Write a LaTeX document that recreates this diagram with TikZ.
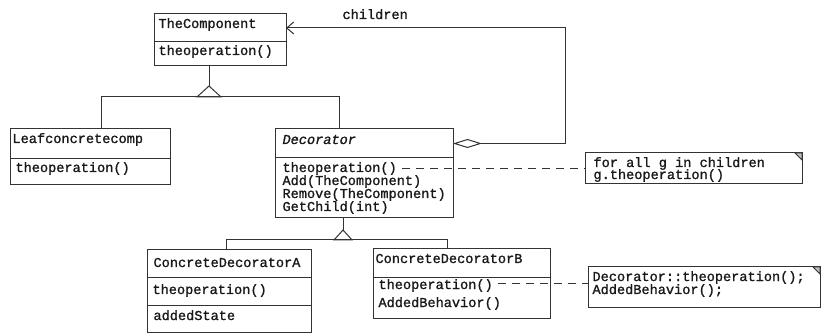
\documentclass[tikz,border=0pt]{standalone}
\usepackage{fontspec}
\newfontfamily\umlfont[FakeBold=1.2]{Liberation Mono}
\usetikzlibrary{arrows.meta,calc}
\begin{document}
\begin{tikzpicture}[x=1pt,y=-1pt,
  line width=1pt,
  comp/.style={draw=black!80, inner sep=0pt, outer sep=0pt, anchor=north west},
  notebox/.style={draw=black!80, inner sep=0pt, outer sep=0pt, anchor=north west},
  txt/.style={font=\umlfont\fontsize{13.6}{13}\selectfont, inner sep=0pt, anchor=base west, text=black!90},
  itxt/.style={txt, font=\umlfont\itshape\fontsize{13.6}{13}\selectfont},
  conn/.style={draw=black!80, line width=1pt},
  dashln/.style={draw=black!80, line width=1pt, dash pattern=on 8pt off 6pt},
]
\path[use as bounding box] (0,0) rectangle (826,336);
\fill[white] (0,0) rectangle (826,336);

% TheComponent
\node[comp, minimum width=132pt, minimum height=28pt] (tcA) at (154,14) {};
\node[comp, minimum width=132pt, minimum height=24pt] (tcB) at (154,42) {};
\node[txt] (tcN) at (158,28) {TheComponent};
\node[txt] (tcO) at (158,55) {theoperation()};

% Leafconcretecomp
\node[comp, minimum width=160pt, minimum height=30pt] (lfA) at (10,129) {};
\node[comp, minimum width=160pt, minimum height=26pt] (lfB) at (10,159) {};
\node[txt] (lfN) at (12,143) {Leafconcretecomp};
\node[txt] (lfO) at (15,172) {theoperation()};

% Decorator
\node[comp, minimum width=178pt, minimum height=29pt] (dcA) at (275,129) {};
\node[comp, minimum width=178pt, minimum height=60pt] (dcB) at (275,158) {};
\node[itxt] (dcN) at (282,144) {Decorator};
\node[txt] (dcO1) at (282,172) {theoperation()};
\node[txt] (dcO2) at (282,185) {Add(TheComponent)};
\node[txt] (dcO3) at (282,198) {Remove(TheComponent)};
\node[txt] (dcO4) at (282,211) {GetChild(int)};

% Note 1
\node[notebox, minimum width=217pt, minimum height=31pt] (nt1) at (585,153) {};
\draw[conn, fill=black!25] ($(nt1.north east)+(-7,0)$) -- ($(nt1.north east)+(0,7)$) -- (nt1.north east) -- cycle;
\node[txt] (nt1a) at (593,167) {for all g in children};
\node[txt] (nt1b) at (593,179) {g.theoperation()};

% ConcreteDecoratorA
\node[comp, minimum width=164pt, minimum height=28pt] (caA) at (147,250) {};
\node[comp, minimum width=164pt, minimum height=27pt] (caB) at (147,278) {};
\node[comp, minimum width=164pt, minimum height=27pt] (caC) at (147,305) {};
\node[txt] (caN) at (153,267) {ConcreteDecoratorA};
\node[txt] (caO) at (152,294) {theoperation()};
\node[txt] (caS) at (153,320) {addedState};

% ConcreteDecoratorB
\node[comp, minimum width=177pt, minimum height=29pt] (cbA) at (373,249) {};
\node[comp, minimum width=177pt, minimum height=40pt] (cbB) at (373,278) {};
\node[txt] (cbN) at (375,263) {ConcreteDecoratorB};
\node[txt] (cbO1) at (378,289) {theoperation()};
\node[txt] (cbO2) at (378,307) {AddedBehavior()};

% Note 2
\node[notebox, minimum width=232pt, minimum height=40pt] (nt2) at (588,267) {};
\draw[conn, fill=black!25] ($(nt2.north east)+(-7,0)$) -- ($(nt2.north east)+(0,7)$) -- (nt2.north east) -- cycle;
\node[txt] (nt2a) at (592,281) {Decorator::theoperation();};
\node[txt] (nt2b) at (592,294) {AddedBehavior();};

% generalization 1
\coordinate (g1) at ($(tcB.south west)+(55,20)$);
\draw[conn] ($(tcB.south west)+(55,0)$) -- (g1);
\draw[conn, fill=white] (g1) -- ++(-12,11) -- ++(24,0) -- cycle;
\draw[conn] ($(lfA.north west)+(91,0)$) |- ($(dcA.north west)+(64,-32)$) -- ($(dcA.north west)+(64,0)$);

% generalization 2
\coordinate (g2) at ($(dcB.south west)+(68,12)$);
\draw[conn] ($(dcB.south west)+(68,0)$) -- (g2);
\draw[conn, fill=white] (g2) -- ++(-9,10) -- ++(18,0) -- cycle;
\draw[conn] ($(caA.north west)+(79,0)$) |- ($(cbA.north west)+(74,-9)$) -- ($(cbA.north west)+(74,0)$);

% aggregation children
\draw[conn, {Diamond[open,length=29pt,width=9pt]}-{Straight Barb[length=7pt,width=12pt]}]
  (dcA.east) -- ++(112,0) |- (tcA.east);
\node[txt] (chl) at (342,19) {children};

% note links
\draw[dashln] ($(dcO1.east)+(5,0)$) -- (nt1.west |- dcO1.east);
\draw[dashln] ($(cbO1.east)+(5,-2)$) -- ($(nt2.west |- cbO1.east)+(0,-2)$);
\end{tikzpicture}
\end{document}
